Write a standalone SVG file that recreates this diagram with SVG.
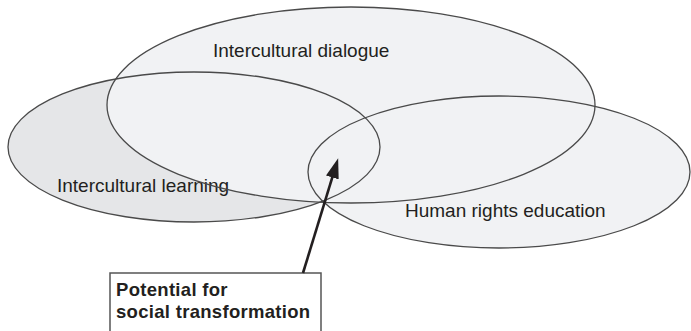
<svg xmlns="http://www.w3.org/2000/svg" width="691" height="331" viewBox="0 0 691 331">
  <style>
    .fill-light { fill: #f1f2f4; stroke: none; }
    .fill-grey { fill: #e5e6e8; stroke: none; }
    .outline { fill: none; stroke: #4a4a4a; stroke-width: 1.3; }
    .label { font-family: "Liberation Sans", Arial, sans-serif; font-size: 19px; fill: #231f20; }
    .box { fill: #ffffff; stroke: #555555; stroke-width: 1.5; }
    .box-text { font-family: "Liberation Sans", Arial, sans-serif; font-size: 18.5px; font-weight: bold; fill: #231f20; letter-spacing: 0.3px; }
    .connector { stroke: #231f20; stroke-width: 2.6; fill: none; }
  </style>
  <defs>
    <marker id="arrowhead" markerUnits="userSpaceOnUse" markerWidth="20" markerHeight="14" viewBox="0 0 18 12" refX="12" refY="6" orient="auto">
      <path d="M0,0 L18,6 L0,12 z" fill="#231f20"/>
    </marker>
  </defs>

  <!-- fills (drawn first) -->
  <g id="fills">
    <ellipse class="fill-grey" cx="194" cy="147" rx="186" ry="75"/>
    <ellipse class="fill-light" cx="351" cy="105" rx="244" ry="98"/>
    <ellipse class="fill-light" cx="499" cy="172" rx="191" ry="76"/>
  </g>

  <g id="intercultural-learning">
    <ellipse class="outline" cx="194" cy="147" rx="186" ry="75"/>
    <text class="label" x="57" y="192">Intercultural learning</text>
  </g>

  <g id="intercultural-dialogue">
    <ellipse class="outline" cx="351" cy="105" rx="244" ry="98"/>
    <text class="label" x="213" y="57">Intercultural dialogue</text>
  </g>

  <g id="human-rights-education">
    <ellipse class="outline" cx="499" cy="172" rx="191" ry="76"/>
    <text class="label" x="405" y="217">Human rights education</text>
  </g>

  <g id="potential-box">
    <rect class="box" x="110" y="273" width="211" height="70"/>
    <text class="box-text" x="116" y="296">Potential for</text>
    <text class="box-text" x="116" y="318">social transformation</text>
  </g>

  <g id="connectors">
    <line class="connector" x1="303" y1="273" x2="336.2" y2="164.7" marker-end="url(#arrowhead)"/>
  </g>
</svg>
